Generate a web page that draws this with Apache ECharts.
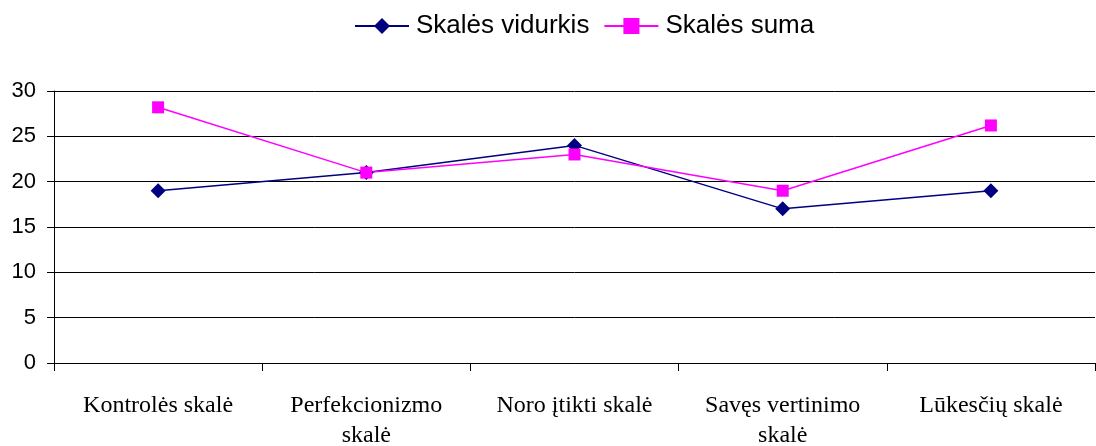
<!DOCTYPE html>
<html>
<head>
<meta charset="utf-8">
<script src="https://cdn.jsdelivr.net/npm/echarts@6/dist/echarts.min.js"></script>
<style>
  html, body { margin: 0; padding: 0; background: #fff; }
  #chart { width: 1096px; height: 446px; }
</style>
</head>
<body>
<div id="chart"></div>
<script>
// kategorijos
const categories = ['Kontrolės skalė', 'Perfekcionizmo\nskalė', 'Noro įtikti skalė', 'Savęs vertinimo\nskalė', 'Lūkesčių skalė'];
const vidurkis = [19, 21, 24, 17, 19];
const suma = [28.2, 21, 23, 19, 26.2];
const yTicks = [0, 5, 10, 15, 20, 25, 30];

const chart = echarts.init(document.getElementById('chart'));

chart.setOption({
    animation: false,
    legend: {
        top: 13,
        left: 354,
        padding: 0,
        itemWidth: 54,
        itemHeight: 20,
        itemGap: 14,
        textStyle: { fontFamily: 'Liberation Sans', fontSize: 26, color: '#000', padding: [0, 0, 0, 2] },
        data: ['Skalės vidurkis', 'Skalės suma']
    },
    grid: { left: 54, right: 1, top: 91, bottom: 83, outerBoundsMode: 'none' },
    xAxis: {
        type: 'category',
        data: categories,
        boundaryGap: true,
        axisLine: { lineStyle: { color: '#000', width: 1 } },
        axisTick: { show: true, length: 8, lineStyle: { color: '#000' } },
        axisLabel: {
            margin: 28,
            fontFamily: 'Liberation Serif',
            fontSize: 24,
            lineHeight: 30,
            color: '#000'
        }
    },
    yAxis: {
        type: 'value',
        min: yTicks[0],
        max: yTicks[yTicks.length - 1],
        interval: 5,
        axisLine: { show: true, lineStyle: { color: '#000', width: 1 } },
        axisTick: { show: true, length: 7, lineStyle: { color: '#000' } },
        axisLabel: {
            margin: 18,
            fontFamily: 'Liberation Sans',
            fontSize: 22,
            color: '#000'
        },
        splitLine: { show: true, lineStyle: { color: '#000', width: 1 } }
    },
    series: [
        {
            name: 'Skalės vidurkis',
            type: 'line',
            data: vidurkis,
            symbol: 'diamond',
            symbolSize: 15,
            color: '#000080',
            lineStyle: { width: 1.5, color: '#000080' },
            itemStyle: { color: '#000080' }
        },
        {
            name: 'Skalės suma',
            type: 'line',
            data: suma,
            symbol: 'rect',
            symbolSize: 12,
            color: '#ff00ff',
            lineStyle: { width: 1.5, color: '#ff00ff' },
            itemStyle: { color: '#ff00ff' }
        }
    ]
});
</script>
</body>
</html>
